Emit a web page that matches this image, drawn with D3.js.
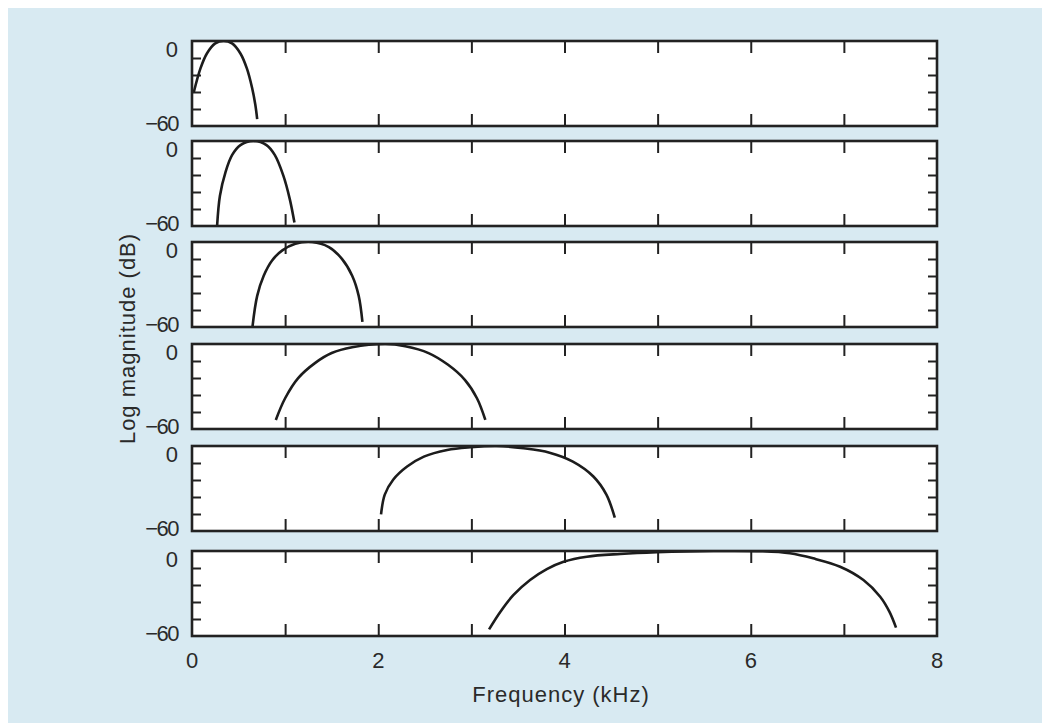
<!DOCTYPE html>
<html>
<head>
<meta charset="utf-8">
<script src="https://cdn.jsdelivr.net/npm/d3@7"></script>
<style>
  html, body { margin: 0; padding: 0; background: #ffffff; }
  svg { display: block; }
  text { font-family: "Liberation Sans", Arial, Helvetica, sans-serif; fill: #2a2a2a; }
</style>
</head>
<body>
<script>
// Filter-bank responses: frequency (kHz) and log magnitude (dB) for each channel
const band1Freq = [0.02, 0.09, 0.16, 0.25, 0.34, 0.43, 0.52, 0.59, 0.645, 0.68, 0.70];
const band1Db   = [-36, -19.5, -8.8, -1.7, 0, -1.7, -8.8, -19.5, -33, -45, -55.2];

const band2Freq = [0.27, 0.30, 0.36, 0.43, 0.52, 0.66, 0.80, 0.89, 0.98, 1.05, 1.10];
const band2Db   = [-59.5, -38.6, -21.9, -10, -2.9, 0, -2.9, -10, -24.3, -41, -57.6];

const band3Freq = [0.65, 0.70, 0.77, 0.86, 0.97, 1.11, 1.29, 1.47, 1.61, 1.72, 1.79, 1.83];
const band3Db   = [-59.5, -38, -23.8, -13, -5.9, -1.2, 0, -3.6, -11.9, -23.8, -38, -56.4];

const band4Freq = [0.90, 1.00, 1.14, 1.32, 1.50, 1.72, 2.08, 2.29, 2.54, 2.75, 2.93, 3.06, 3.15];
const band4Db   = [-53.6, -38.3, -24.1, -13.5, -6.4, -2.3, 0, -1.6, -6.4, -14.7, -25.3, -38.3, -53.6];

const band5Freq = [2.03, 2.07, 2.16, 2.31, 2.49, 2.74, 2.99, 3.27, 3.56, 3.84, 4.09, 4.31, 4.45, 4.54];
const band5Db   = [-48.3, -34.3, -23.8, -14.5, -7.5, -2.8, -0.9, 0, -1.6, -4.7, -11, -21.5, -34.3, -50.6];

const band6Freq = [3.19, 3.31, 3.45, 3.63, 3.81, 3.99, 4.24, 4.60, 4.99, 5.60, 6.13, 6.42, 6.67, 6.96, 7.21, 7.39, 7.49, 7.56];
const band6Db   = [-55.3, -43, -31.2, -20.5, -12.8, -7.6, -4, -2.1, -0.9, 0, -0.2, -1.6, -5.2, -11.1, -20.5, -32.3, -43, -54.1];

const bandFreqs = [band1Freq, band2Freq, band3Freq, band4Freq, band5Freq, band6Freq];
const bandDbs   = [band1Db, band2Db, band3Db, band4Db, band5Db, band6Db];

// Axis settings
const freqDomain = [0, 8];
const dbDomain = [-60, 0];
const freqMinorTicks = [1, 2, 3, 4, 5, 6, 7];
const freqTickLabels = [0, 2, 4, 6, 8];
const dbMinorTicks = [-12, -24, -36, -48];
const dbTickLabels = ["0", "\u221260"];
const xTitle = "Frequency (kHz)";
const yTitle = "Log magnitude (dB)";

// Layout
const W = 1042, H = 723;
const plotLeft = 192, plotRight = 937;
const panelTops = [41, 141, 242, 344, 446, 551];
const panelHeight = 85;

const svg = d3.select("body").append("svg")
  .attr("width", W).attr("height", H);

// tinted page backdrop
svg.append("rect")
  .attr("x", 8).attr("y", 8)
  .attr("width", W - 8).attr("height", H - 8)
  .attr("fill", "#d8eaf2");

const x = d3.scaleLinear().domain(freqDomain).range([plotLeft, plotRight]);

const ink = "#222222";
const defs = svg.append("defs");

bandFreqs.forEach((freqs, i) => {
  const top = panelTops[i];
  const y = d3.scaleLinear().domain(dbDomain).range([top + panelHeight, top]);
  const g = svg.append("g");

  const px0 = x(freqDomain[0]), pw = x(freqDomain[1]) - x(freqDomain[0]);
  const py0 = y(0), ph = y(-60) - y(0);

  defs.append("clipPath").attr("id", `clip-${i}`)
    .append("rect").attr("x", px0).attr("y", py0).attr("width", pw).attr("height", ph);

  // plot area
  g.append("rect")
    .attr("x", px0).attr("y", py0).attr("width", pw).attr("height", ph)
    .attr("fill", "#ffffff");

  // inner ticks on all four sides
  const tickStyle = sel => sel.call(s => s.select(".domain").remove())
    .call(s => s.selectAll(".tick line").attr("stroke", ink).attr("stroke-width", 2))
    .call(s => s.selectAll(".tick text").remove());

  g.append("g").attr("transform", `translate(0,${y(0)})`)
    .call(d3.axisBottom(x).tickValues(freqMinorTicks).tickSizeOuter(0).tickSize(12))
    .call(tickStyle);
  g.append("g").attr("transform", `translate(0,${y(-60)})`)
    .call(d3.axisTop(x).tickValues(freqMinorTicks).tickSizeOuter(0).tickSize(12))
    .call(tickStyle);
  g.append("g").attr("transform", `translate(${x(0)},0)`)
    .call(d3.axisRight(y).tickValues(dbMinorTicks).tickSizeOuter(0).tickSize(9))
    .call(tickStyle);
  g.append("g").attr("transform", `translate(${x(8)},0)`)
    .call(d3.axisLeft(y).tickValues(dbMinorTicks).tickSizeOuter(0).tickSize(9))
    .call(tickStyle);

  // response curve
  const pts = freqs.map((f, k) => [f, bandDbs[i][k]]);
  g.append("path")
    .datum(pts)
    .attr("clip-path", `url(#clip-${i})`)
    .attr("fill", "none")
    .attr("stroke", "#1c1c1c")
    .attr("stroke-width", 2.6)
    .attr("d", d3.line().x(d => x(d[0])).y(d => y(d[1])).curve(d3.curveCatmullRom.alpha(0.5)));

  // frame
  g.append("rect")
    .attr("x", px0).attr("y", py0).attr("width", pw).attr("height", ph)
    .attr("fill", "none")
    .attr("stroke", ink)
    .attr("stroke-width", 2.6);

  // dB labels
  g.append("text")
    .attr("x", px0 - 14).attr("y", py0 + 15.5)
    .attr("text-anchor", "end")
    .attr("font-size", 22)
    .text(dbTickLabels[0]);
  g.append("text")
    .attr("x", px0 - 14).attr("y", py0 + ph + 5)
    .attr("text-anchor", "end")
    .attr("font-size", 22)
    .attr("letter-spacing", -1.5)
    .text(dbTickLabels[1]);
});

// frequency labels beneath the last panel
const lastBottom = panelTops[panelTops.length - 1] + panelHeight;
svg.append("g").selectAll("text")
  .data(freqTickLabels)
  .join("text")
  .attr("x", d => x(d))
  .attr("y", lastBottom + 32)
  .attr("text-anchor", "middle")
  .attr("font-size", 22)
  .text(d => d);

svg.append("text")
  .attr("x", 561)
  .attr("y", lastBottom + 66)
  .attr("text-anchor", "middle")
  .attr("font-size", 22)
  .attr("letter-spacing", 1)
  .text(xTitle);

svg.append("text")
  .attr("transform", `translate(135,${(panelTops[0] + lastBottom) / 2}) rotate(-90)`)
  .attr("text-anchor", "middle")
  .attr("font-size", 22)
  .attr("letter-spacing", 1)
  .text(yTitle);
</script>
</body>
</html>
